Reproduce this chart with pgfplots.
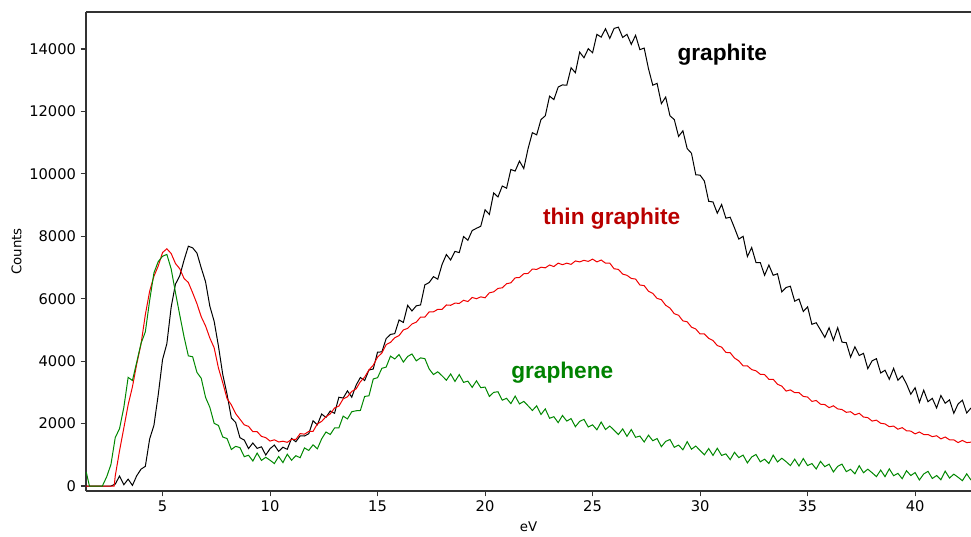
\documentclass[border=0pt]{standalone}
\usepackage{fontspec}
\setmainfont{DejaVu Sans}
\newfontfamily\lab{Liberation Sans}
\usepackage{pgfplots}
\usepackage{pgfplotstable}
\pgfplotsset{compat=1.18}
\definecolor{cgreen}{RGB}{0,135,0}
\definecolor{cred}{RGB}{240,0,0}
\definecolor{lred}{RGB}{185,0,0}
\definecolor{lgreen}{RGB}{0,130,0}

\pgfplotstableread{
x y
1.4 0
1.6 0
1.8 0
2.0 0
2.2 0
2.4 0
2.6 0
2.8 60
3.0 320
3.2 40
3.4 220
3.6 20
3.8 330
4.0 540
4.2 630
4.4 1506
4.6 1946
4.8 2924
5.0 4050
5.2 4558
5.4 5726
5.6 6466
5.8 6732
6.0 7236
6.2 7682
6.4 7630
6.6 7462
6.8 6986
7.0 6544
7.2 5758
7.4 5278
7.6 4482
7.8 3574
8.0 2940
8.2 2180
8.4 2036
8.6 1546
8.8 1474
9.0 1200
9.2 1378
9.4 1206
9.6 1256
9.8 992
10.0 1196
10.2 1312
10.4 1110
10.6 1242
10.8 1176
11.0 1524
11.2 1418
11.4 1608
11.6 1602
11.8 1674
12.0 2090
12.2 1960
12.4 2306
12.6 2196
12.8 2404
13.0 2330
13.2 2844
13.4 2818
13.6 3048
13.8 2846
14.0 3228
14.2 3476
14.4 3380
14.6 3716
14.8 3748
15.0 4292
15.2 4294
15.4 4724
15.6 4856
15.8 4882
16.0 5320
16.2 5240
16.4 5788
16.6 5608
16.8 5772
17.0 5800
17.2 6444
17.4 6518
17.6 6708
17.8 6626
18.0 7098
18.2 7416
18.4 7240
18.6 7516
18.8 7478
19.0 7992
19.2 7874
19.4 8184
19.6 8256
19.8 8322
20.0 8850
20.2 8700
20.4 9390
20.6 9260
20.8 9610
21.0 9540
21.2 10140
21.4 10090
21.6 10410
21.8 10170
22.0 10810
22.2 11320
22.4 11250
22.6 11740
22.8 11860
23.0 12490
23.2 12380
23.4 12780
23.6 12850
23.8 12840
24.0 13400
24.2 13240
24.4 13900
24.6 13720
24.8 14010
25.0 13880
25.2 14470
25.4 14380
25.6 14650
25.8 14340
26.0 14660
26.2 14700
26.4 14370
26.6 14470
26.8 14150
27.0 14440
27.2 13980
27.4 14030
27.6 13370
27.8 12840
28.0 12900
28.2 12250
28.4 12460
28.6 11860
28.8 11740
29.0 11200
29.2 11380
29.4 10810
29.6 10660
29.8 9970
30.0 9960
30.2 9770
30.4 9120
30.6 9100
30.8 8740
31.0 9020
31.2 8580
31.4 8610
31.6 8270
31.8 7910
32.0 8000
32.2 7350
32.4 7640
32.6 7160
32.8 7160
33.0 6750
33.2 7080
33.4 6750
33.6 6800
33.8 6220
34.0 6360
34.2 6400
34.4 5920
34.6 5990
34.8 5590
35.0 5740
35.2 5180
35.4 5230
35.6 5000
35.8 4760
36.0 5070
36.2 4670
36.4 5070
36.6 4610
36.8 4590
37.0 4130
37.2 4460
37.4 4180
37.6 4250
37.8 3760
38.0 4010
38.2 4080
38.4 3620
38.6 3710
38.8 3420
39.0 3770
39.2 3390
39.4 3530
39.6 3270
39.8 2940
40.0 3150
40.2 2680
40.4 3070
40.6 2700
40.8 2810
41.0 2500
41.2 2900
41.4 2650
41.6 2760
41.8 2330
42.0 2630
42.2 2750
42.4 2340
42.6 2500
}\graphite

\pgfplotstableread{
x y
1.4 0
1.6 0
1.8 0
2.0 0
2.2 0
2.4 0
2.6 0
2.75 0
2.8 320
3.0 1130
3.2 1860
3.4 2600
3.6 3180
3.8 3910
4.0 4550
4.2 5490
4.4 6240
4.6 6720
4.8 7050
5.0 7480
5.2 7600
5.4 7450
5.6 7130
5.8 6960
6.0 6650
6.2 6520
6.4 6190
6.6 5840
6.8 5420
7.0 5130
7.2 4740
7.4 4430
7.6 3780
7.8 3310
8.0 2800
8.2 2600
8.4 2320
8.6 2140
8.8 1960
9.0 1910
9.2 1740
9.4 1740
9.6 1590
9.8 1550
10.0 1440
10.2 1480
10.4 1410
10.6 1435
10.8 1400
11.0 1490
11.2 1490
11.4 1680
11.6 1660
11.8 1750
12.0 1750
12.2 1990
12.4 2070
12.6 2220
12.8 2310
13.0 2500
13.2 2560
13.4 2790
13.6 2860
13.8 3030
14.0 3110
14.2 3340
14.4 3490
14.6 3720
14.8 3870
15.0 4130
15.2 4260
15.4 4530
15.6 4600
15.8 4750
16.0 4820
16.2 5000
16.4 5050
16.6 5190
16.8 5250
17.0 5410
17.2 5410
17.4 5580
17.6 5580
17.8 5660
18.0 5660
18.2 5800
18.4 5790
18.6 5860
18.8 5850
19.0 5950
19.2 5910
19.4 6040
19.6 6000
19.8 6060
20.0 6030
20.2 6190
20.4 6220
20.6 6330
20.8 6350
21.0 6480
21.2 6510
21.4 6670
21.6 6680
21.8 6800
22.0 6810
22.2 6950
22.4 6940
22.6 7010
22.8 6990
23.0 7080
23.2 7030
23.4 7140
23.6 7090
23.8 7140
24.0 7100
24.2 7210
24.4 7180
24.6 7230
24.8 7195
25.0 7270
25.2 7180
25.4 7240
25.6 7140
25.8 7140
26.0 6960
26.2 6940
26.4 6790
26.6 6750
26.8 6650
27.0 6630
27.2 6440
27.4 6420
27.6 6240
27.8 6170
28.0 6010
28.2 5970
28.4 5790
28.6 5700
28.8 5520
29.0 5470
29.2 5290
29.4 5260
29.6 5090
29.8 5030
30.0 4870
30.2 4870
30.4 4730
30.6 4660
30.8 4500
31.0 4450
31.2 4280
31.4 4270
31.6 4100
31.8 4010
32.0 3850
32.2 3850
32.4 3730
32.6 3690
32.8 3580
33.0 3570
33.2 3420
33.4 3420
33.6 3260
33.8 3200
34.0 3040
34.2 3080
34.4 2990
34.6 2990
34.8 2870
35.0 2850
35.2 2710
35.4 2740
35.6 2620
35.8 2610
36.0 2510
36.2 2570
36.4 2470
36.6 2450
36.8 2360
37.0 2380
37.2 2280
37.4 2330
37.6 2210
37.8 2190
38.0 2080
38.2 2110
38.4 2010
38.6 1990
38.8 1900
39.0 1920
39.2 1820
39.4 1870
39.6 1770
39.8 1760
40.0 1670
40.2 1730
40.4 1650
40.6 1650
40.8 1580
41.0 1610
41.2 1510
41.4 1570
41.6 1480
41.8 1480
42.0 1390
42.2 1460
42.4 1390
42.6 1405
}\thin

\pgfplotstableread{
x y
1.45 450
1.6 0
1.8 0
2.0 0
2.2 0
2.4 290
2.6 690
2.8 1550
3.0 1840
3.2 2520
3.4 3480
3.6 3380
3.8 3970
4.0 4570
4.2 4940
4.4 5940
4.6 6830
4.8 7190
5.0 7360
5.2 7420
5.4 6960
5.6 6200
5.8 5480
6.0 4780
6.2 4170
6.4 4140
6.6 3640
6.8 3450
7.0 2840
7.2 2520
7.4 2010
7.6 1940
7.8 1570
8.0 1520
8.2 1170
8.4 1270
8.6 1230
8.8 940
9.0 985
9.2 800
9.4 1055
9.6 820
9.8 920
10.0 825
10.2 720
10.4 945
10.6 750
10.8 1020
11.0 825
11.2 970
11.4 907
11.6 1220
11.8 1140
12.0 1320
12.2 1190
12.4 1510
12.6 1730
12.8 1650
13.0 1860
13.2 1860
13.4 2240
13.6 2150
13.8 2380
14.0 2410
14.2 2420
14.4 2870
14.6 2890
14.8 3430
15.0 3470
15.2 3770
15.4 3810
15.6 4160
15.8 4070
16.0 4210
16.2 3970
16.4 4150
16.6 4230
16.8 4010
17.0 4105
17.2 4080
17.4 3750
17.6 3570
17.8 3660
18.0 3530
18.2 3390
18.4 3590
18.6 3350
18.8 3570
19.0 3320
19.2 3360
19.4 3160
19.6 3370
19.8 3150
20.0 3170
20.2 2870
20.4 3000
20.6 3020
20.8 2750
21.0 2810
21.2 2640
21.4 2880
21.6 2630
21.8 2710
22.0 2570
22.2 2420
22.4 2570
22.6 2290
22.8 2470
23.0 2170
23.2 2220
23.4 2030
23.6 2260
23.8 2080
24.0 2160
24.2 1900
24.4 2070
24.6 2135
24.8 1890
25.0 1960
25.2 1800
25.4 2050
25.6 1810
25.8 1920
26.0 1790
26.2 1650
26.4 1830
26.6 1590
26.8 1810
27.0 1560
27.2 1600
27.4 1410
27.6 1630
27.8 1450
28.0 1520
28.2 1260
28.4 1430
28.6 1490
28.8 1240
29.0 1310
29.2 1160
29.4 1420
29.6 1180
29.8 1280
30.0 1140
30.2 1000
30.4 1200
30.6 980
30.8 1210
31.0 980
31.2 1030
31.4 845
31.6 1080
31.8 910
32.0 990
32.2 740
32.4 930
32.6 1010
32.8 775
33.0 860
33.2 720
33.4 990
33.6 770
33.8 890
34.0 780
34.2 655
34.4 860
34.6 640
34.8 880
35.0 655
35.2 720
35.4 545
35.6 790
35.8 620
36.0 700
36.2 450
36.4 630
36.6 700
36.8 460
37.0 535
37.2 390
37.4 650
37.6 425
37.8 540
38.0 425
38.2 300
38.4 510
38.6 300
38.8 550
39.0 330
39.2 405
39.4 235
39.6 490
39.8 335
40.0 430
40.2 192
40.4 385
40.6 470
40.8 240
41.0 335
41.2 200
41.4 475
41.6 255
41.8 380
42.0 280
42.2 170
42.4 390
42.6 190
}\graphene

\begin{document}
\begin{tikzpicture}
\begin{axis}[
  width=663.75pt, height=359.25pt, scale only axis,
  xmin=1.44, xmax=42.6, ymin=-160, ymax=15186,
  axis x line*=box, axis y line*=left,
  axis line style={line width=1pt, draw=black!80},
  xtick={5,10,...,40}, ytick={0,2000,...,14000},
  xtick pos=bottom, ytick pos=left,
  tick align=outside, major tick length=4pt,
  tick style={line width=0.8pt, draw=black!80},
  scaled ticks=false,
  /pgf/number format/set thousands separator={},
  /pgf/number format/assume math mode=true,
  tick label style={font=\fontsize{11}{13}\selectfont},
  xlabel={eV}, ylabel={Counts},
  label style={font=\fontsize{10}{12}\selectfont},
  xlabel style={yshift=0pt},
  ylabel style={yshift=-1pt},
  clip=true,
]
\addplot[black, line width=0.75pt] table[x=x,y=y] {\graphite};
\addplot[cred, line width=0.75pt] table[x=x,y=y] {\thin};
\addplot[cgreen, line width=0.75pt] table[x=x,y=y] {\graphene};
\node[inner sep=0, font=\lab\bfseries\fontsize{17}{20}\selectfont] at (axis cs:31.03,13808) {graphite};
\node[inner sep=0, font=\lab\bfseries\fontsize{17}{20}\selectfont, text=lred] at (axis cs:25.89,8570) {thin graphite};
\node[inner sep=0, font=\lab\bfseries\fontsize{17}{20}\selectfont, text=lgreen] at (axis cs:23.59,3620) {graphene};
\end{axis}
\pgfresetboundingbox
\path[use as bounding box] ([xshift=-64.5pt,yshift=-33.75pt]current axis.south west) rectangle ([yshift=9pt]current axis.north east);
\end{tikzpicture}
\end{document}
